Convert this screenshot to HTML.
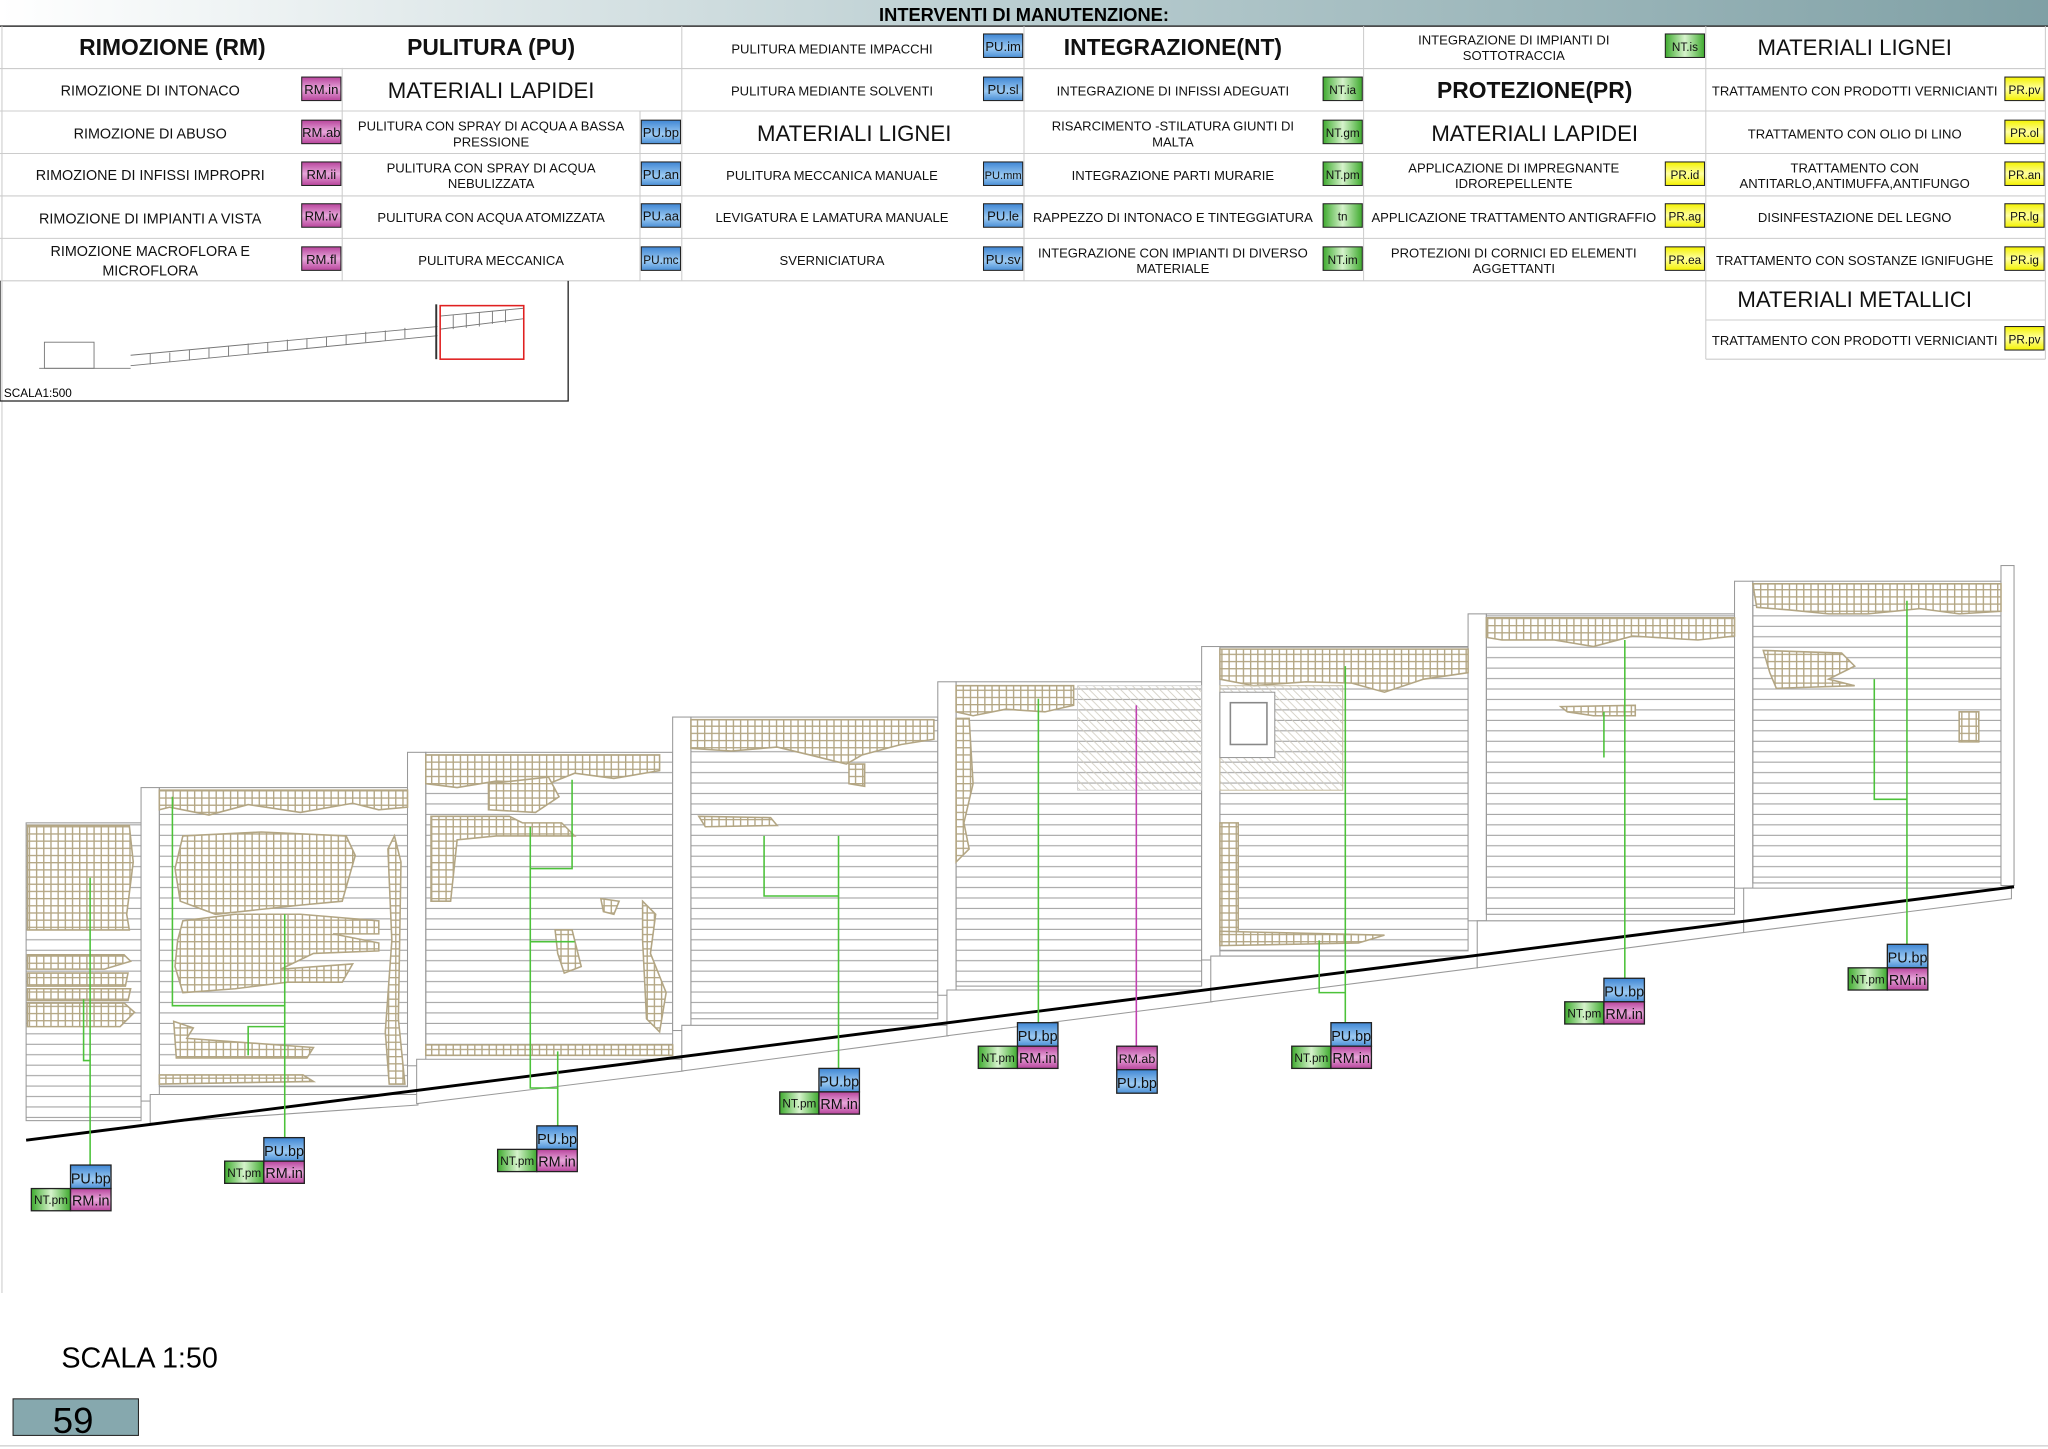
<!DOCTYPE html>
<html><head><meta charset="utf-8"><style>
html,body{margin:0;padding:0;background:#fff}
svg{display:block}
text{font-family:"Liberation Sans",Arial,sans-serif}
</style></head><body>
<svg width="2048" height="1449" viewBox="0 0 1568 1109.4" preserveAspectRatio="none" xmlns="http://www.w3.org/2000/svg">
<defs>
<linearGradient id="hd" x1="0" x2="1"><stop offset="0" stop-color="#ffffff"/><stop offset="0.5" stop-color="#b9cdd0"/><stop offset="1" stop-color="#7fa0a5"/></linearGradient>
<linearGradient id="rm" x1="0" y1="0" x2="0" y2="1"><stop offset="0" stop-color="#b8449c"/><stop offset="0.5" stop-color="#e7a6da"/><stop offset="1" stop-color="#b8449c"/></linearGradient>
<linearGradient id="pu" x1="0" y1="0" x2="0" y2="1"><stop offset="0" stop-color="#3f86d4"/><stop offset="0.6" stop-color="#9ccaf2"/><stop offset="1" stop-color="#4a8fd6"/></linearGradient>
<linearGradient id="nt" x1="0" y1="0" x2="1" y2="0"><stop offset="0" stop-color="#3eaa2e"/><stop offset="0.5" stop-color="#d6f3cc"/><stop offset="1" stop-color="#3eaa2e"/></linearGradient>
<linearGradient id="pr" x1="0" y1="0" x2="0" y2="1"><stop offset="0" stop-color="#f4f200"/><stop offset="0.5" stop-color="#ffffa0"/><stop offset="1" stop-color="#f4f200"/></linearGradient>
<pattern id="hl" width="20" height="8" patternUnits="userSpaceOnUse"><line x1="0" y1="7.5" x2="20" y2="7.5" stroke="#9a9a9a" stroke-width="0.8"/></pattern>
<pattern id="gr" width="5.5" height="5.5" patternUnits="userSpaceOnUse"><rect width="5.5" height="5.5" fill="#fff"/><path d="M0 0.5H5.5M0.5 0V5.5" stroke="#b3a684" stroke-width="1.1"/></pattern>
<pattern id="dg" width="6" height="6" patternUnits="userSpaceOnUse"><path d="M0 0L6 6M-1 5L1 7M5 -1L7 1" stroke="#d0ccc0" stroke-width="0.6"/></pattern>
</defs>

<rect x="0" y="0" width="1568" height="20" fill="url(#hd)"/>
<text x="784" y="16" font-size="14" font-weight="bold" text-anchor="middle">INTERVENTI DI MANUTENZIONE:</text>
<line x1="0" y1="20" x2="1568" y2="20" stroke="#333" stroke-width="1.2"/>

<g stroke="#ccc" stroke-width="0.8" fill="none">
<line x1="0" y1="52.5" x2="1566" y2="52.5"/><line x1="0" y1="85" x2="1566" y2="85"/><line x1="0" y1="117.5" x2="1566" y2="117.5"/><line x1="0" y1="150" x2="1566" y2="150"/><line x1="0" y1="182.5" x2="1566" y2="182.5"/><line x1="0" y1="215" x2="1566" y2="215"/>
<line x1="1306" y1="245" x2="1566" y2="245"/><line x1="1306" y1="275" x2="1566" y2="275"/>
<line x1="522" y1="20" x2="522" y2="215"/><line x1="784" y1="20" x2="784" y2="215"/><line x1="1044" y1="20" x2="1044" y2="215"/><line x1="1306" y1="20" x2="1306" y2="275"/><line x1="1566" y1="20" x2="1566" y2="275"/>
<line x1="262" y1="52" x2="262" y2="215"/><line x1="490" y1="85" x2="490" y2="215"/>
<line x1="1.5" y1="20" x2="1.5" y2="990"/>
</g>

<g font-size="10.5" text-anchor="middle" fill="#111">
<text x="132" y="42" font-size="17.5" font-weight="bold">RIMOZIONE (RM)</text>
<text x="115" y="73" font-size="11">RIMOZIONE DI INTONACO</text>
<text x="115" y="106" font-size="11">RIMOZIONE DI ABUSO</text>
<text x="115" y="138" font-size="11">RIMOZIONE DI INFISSI IMPROPRI</text>
<text x="115" y="171" font-size="11">RIMOZIONE DI IMPIANTI A VISTA</text>
<text x="115" y="196" font-size="11">RIMOZIONE MACROFLORA E</text>
<text x="115" y="211" font-size="11">MICROFLORA</text>
<text x="376" y="42" font-size="17.5" font-weight="bold">PULITURA (PU)</text>
<text x="376" y="75" font-size="17">MATERIALI LAPIDEI</text>
<text x="376" y="100" font-size="10">PULITURA CON SPRAY DI ACQUA A BASSA</text>
<text x="376" y="112" font-size="10">PRESSIONE</text>
<text x="376" y="132" font-size="10">PULITURA CON SPRAY DI ACQUA</text>
<text x="376" y="144" font-size="10">NEBULIZZATA</text>
<text x="376" y="170" font-size="10">PULITURA CON  ACQUA ATOMIZZATA</text>
<text x="376" y="203" font-size="10">PULITURA MECCANICA</text>
<text x="637" y="41" font-size="10">PULITURA  MEDIANTE IMPACCHI</text>
<text x="637" y="73" font-size="10">PULITURA MEDIANTE SOLVENTI</text>
<text x="654" y="108" font-size="17">MATERIALI LIGNEI</text>
<text x="637" y="138" font-size="10">PULITURA MECCANICA MANUALE</text>
<text x="637" y="170" font-size="10">LEVIGATURA E LAMATURA MANUALE</text>
<text x="637" y="203" font-size="10">SVERNICIATURA</text>
<text x="898" y="42" font-size="17.5" font-weight="bold">INTEGRAZIONE(NT)</text>
<text x="898" y="73" font-size="10">INTEGRAZIONE DI INFISSI ADEGUATI</text>
<text x="898" y="100" font-size="10">RISARCIMENTO -STILATURA GIUNTI DI</text>
<text x="898" y="112" font-size="10">MALTA</text>
<text x="898" y="138" font-size="10">INTEGRAZIONE PARTI MURARIE</text>
<text x="898" y="170" font-size="10">RAPPEZZO DI INTONACO E TINTEGGIATURA</text>
<text x="898" y="197" font-size="10">INTEGRAZIONE CON IMPIANTI DI DIVERSO</text>
<text x="898" y="209" font-size="10">MATERIALE</text>
<text x="1159" y="34" font-size="10">INTEGRAZIONE DI IMPIANTI DI</text>
<text x="1159" y="46" font-size="10">SOTTOTRACCIA</text>
<text x="1175" y="75" font-size="17.5" font-weight="bold">PROTEZIONE(PR)</text>
<text x="1175" y="108" font-size="17">MATERIALI LAPIDEI</text>
<text x="1159" y="132" font-size="10">APPLICAZIONE DI IMPREGNANTE</text>
<text x="1159" y="144" font-size="10">IDROREPELLENTE</text>
<text x="1159" y="170" font-size="10">APPLICAZIONE TRATTAMENTO ANTIGRAFFIO</text>
<text x="1159" y="197" font-size="10">PROTEZIONI DI CORNICI ED ELEMENTI</text>
<text x="1159" y="209" font-size="10">AGGETTANTI</text>
<text x="1420" y="42" font-size="17">MATERIALI LIGNEI</text>
<text x="1420" y="73" font-size="10">TRATTAMENTO CON PRODOTTI VERNICIANTI</text>
<text x="1420" y="106" font-size="10">TRATTAMENTO CON OLIO DI LINO</text>
<text x="1420" y="132" font-size="10">TRATTAMENTO CON</text>
<text x="1420" y="144" font-size="10">ANTITARLO,ANTIMUFFA,ANTIFUNGO</text>
<text x="1420" y="170" font-size="10">DISINFESTAZIONE DEL LEGNO</text>
<text x="1420" y="203" font-size="10">TRATTAMENTO CON SOSTANZE IGNIFUGHE</text>
<text x="1420" y="235" font-size="17">MATERIALI METALLICI</text>
<text x="1420" y="264" font-size="10">TRATTAMENTO CON PRODOTTI VERNICIANTI</text>
</g>

<g stroke="#222" stroke-width="0.8" font-size="10">
<rect x="231" y="59" width="30" height="18" fill="url(#rm)"/><rect x="231" y="92" width="30" height="18" fill="url(#rm)"/><rect x="231" y="124" width="30" height="18" fill="url(#rm)"/><rect x="231" y="156" width="30" height="18" fill="url(#rm)"/><rect x="231" y="189" width="30" height="18" fill="url(#rm)"/>
<rect x="491" y="92" width="30" height="18" fill="url(#pu)"/><rect x="491" y="124" width="30" height="18" fill="url(#pu)"/><rect x="491" y="156" width="30" height="18" fill="url(#pu)"/><rect x="491" y="189" width="30" height="18" fill="url(#pu)"/>
<rect x="753" y="26" width="30" height="18" fill="url(#pu)"/><rect x="753" y="59" width="30" height="18" fill="url(#pu)"/><rect x="753" y="124" width="30" height="18" fill="url(#pu)"/><rect x="753" y="156" width="30" height="18" fill="url(#pu)"/><rect x="753" y="189" width="30" height="18" fill="url(#pu)"/>
<rect x="1013" y="59" width="30" height="18" fill="url(#nt)"/><rect x="1013" y="92" width="30" height="18" fill="url(#nt)"/><rect x="1013" y="124" width="30" height="18" fill="url(#nt)"/><rect x="1013" y="156" width="30" height="18" fill="url(#nt)"/><rect x="1013" y="189" width="30" height="18" fill="url(#nt)"/>
<rect x="1275" y="26" width="30" height="18" fill="url(#nt)"/>
<rect x="1275" y="124" width="30" height="18" fill="url(#pr)"/><rect x="1275" y="156" width="30" height="18" fill="url(#pr)"/><rect x="1275" y="189" width="30" height="18" fill="url(#pr)"/>
<rect x="1535" y="59" width="30" height="18" fill="url(#pr)"/><rect x="1535" y="92" width="30" height="18" fill="url(#pr)"/><rect x="1535" y="124" width="30" height="18" fill="url(#pr)"/><rect x="1535" y="156" width="30" height="18" fill="url(#pr)"/><rect x="1535" y="189" width="30" height="18" fill="url(#pr)"/><rect x="1535" y="250" width="30" height="18" fill="url(#pr)"/>
</g>
<g font-size="10" text-anchor="middle" fill="#111">
<text x="246" y="72">RM.in</text><text x="246" y="105">RM.ab</text><text x="246" y="137">RM.ii</text><text x="246" y="169">RM.iv</text><text x="246" y="202">RM.fl</text>
<text x="506" y="105">PU.bp</text><text x="506" y="137">PU.an</text><text x="506" y="169">PU.aa</text><text x="506" y="202" font-size="9">PU.mc</text>
<text x="768" y="39">PU.im</text><text x="768" y="72">PU.sl</text><text x="768" y="137" font-size="8.5">PU.mm</text><text x="768" y="169">PU.le</text><text x="768" y="202">PU.sv</text>
<text x="1028" y="72" font-size="9">NT.ia</text><text x="1028" y="105" font-size="9">NT.gm</text><text x="1028" y="137" font-size="9">NT.pm</text><text x="1028" y="169" font-size="9">tn</text><text x="1028" y="202" font-size="9">NT.im</text>
<text x="1290" y="39" font-size="9">NT.is</text>
<text x="1290" y="137" font-size="9">PR.id</text><text x="1290" y="169" font-size="9">PR.ag</text><text x="1290" y="202" font-size="9">PR.ea</text>
<text x="1550" y="72" font-size="9">PR.pv</text><text x="1550" y="105" font-size="9">PR.ol</text><text x="1550" y="137" font-size="9">PR.an</text><text x="1550" y="169" font-size="9">PR.lg</text><text x="1550" y="202" font-size="9">PR.ig</text><text x="1550" y="263" font-size="9">PR.pv</text>
</g>

<path d="M0 215V307H435V215" fill="none" stroke="#222" stroke-width="1"/>
<g stroke="#777" stroke-width="0.7" fill="none">
<rect x="34" y="262" width="38" height="20"/><line x1="30" y1="282" x2="100" y2="282"/>
<path d="M100 280L335 257M100 272L335 250"/>
<path d="M115 279V271M130 277V270M145 276V268M160 274V266M175 273V265M190 271V263M205 270V262M220 268V260M235 267V259M250 265V258M265 264V256M280 262V254M295 261V253M310 259V251"/>
<line x1="334" y1="233" x2="334" y2="275" stroke="#333" stroke-width="1.5"/>
<path d="M337 252L401 244M337 242L401 236M347 252V241M357 251V240M367 250V239M377 248V238M387 247V237"/>
</g>
<rect x="337" y="234" width="64" height="41" fill="none" stroke="#e02020" stroke-width="1.2"/>
<text x="3" y="304" font-size="9">SCALA1:500</text>

<g stroke="#999" stroke-width="0.8">
<rect x="20" y="630" width="88" height="228" fill="url(#hl)"/>
<rect x="108" y="603" width="14" height="240" fill="#fff"/><rect x="122" y="603" width="190" height="229" fill="url(#hl)"/>
<rect x="312" y="576" width="14" height="240" fill="#fff"/><rect x="326" y="576" width="189" height="229" fill="url(#hl)"/>
<rect x="515" y="549" width="14" height="240" fill="#fff"/><rect x="529" y="549" width="189" height="231" fill="url(#hl)"/>
<rect x="718" y="522" width="14" height="240" fill="#fff"/><rect x="732" y="522" width="188" height="233" fill="url(#hl)"/>
<rect x="920" y="495" width="14" height="240" fill="#fff"/><rect x="934" y="495" width="190" height="233" fill="url(#hl)"/>
<rect x="1124" y="470" width="14" height="235" fill="#fff"/><rect x="1138" y="470" width="190" height="230" fill="url(#hl)"/>
<rect x="1328" y="445" width="14" height="235" fill="#fff"/><rect x="1342" y="445" width="190" height="231" fill="url(#hl)"/>
<rect x="1532" y="433" width="10" height="245" fill="#fff"/>
<path d="M115 838H320V846L115 860Z" fill="#fff"/>
<path d="M319 811H523V820L319 845Z" fill="#fff"/>
<path d="M522 785H726V793L522 820Z" fill="#fff"/>
<path d="M725 758H928V767L725 793Z" fill="#fff"/>
<path d="M927 732H1131V741L927 767Z" fill="#fff"/>
<path d="M1131 705H1335V714L1131 741Z" fill="#fff"/>
<path d="M1335 680H1540V688L1335 714Z" fill="#fff"/>
</g>
<g fill="url(#gr)" stroke="#b3a684" stroke-width="1.2">
<path d="M21 632H99L102 660L97 700L99 712H21Z"/>
<path d="M21 731H95L100 736L80 742H21Z"/><path d="M21 745H98L96 755H21Z"/><path d="M21 757H100L98 766H21Z"/><path d="M21 768H95L103 775L92 786H21Z"/>
<path d="M122 605H312V618L290 620L270 615L230 622L190 616L160 624L130 618L122 620Z"/>
<path d="M140 640L200 637L265 640L272 655L262 690L230 693L165 700L138 690L134 665Z"/>
<path d="M140 705L180 700L230 700L290 705L290 715L255 715L290 722L290 728L240 730L215 742L270 738L262 752L220 752L180 757L140 760L134 740L136 720Z"/>
<path d="M133 782L148 787L143 795L240 802L235 810L135 810Z"/>
<path d="M297 650L302 640L307 660L305 780L310 830L298 830L295 790L300 720Z"/>
<path d="M122 823H232L240 828L122 830Z"/>
<path d="M326 578H505V590L470 596L440 592L420 600L380 598L350 603L326 600Z"/>
<path d="M374 600L420 595L428 610L410 622L374 620Z"/>
<path d="M330 625L390 625L400 630L430 630L440 640L380 640L350 643L345 690L330 690Z"/>
<path d="M326 800H515V808H326Z"/>
<path d="M460 688L474 690L470 700L462 698Z"/><path d="M425 712L438 712L445 740L432 745L427 730Z"/>
<path d="M492 690L502 700L498 730L510 760L505 790L495 780L492 720Z"/>
<path d="M529 551H715V566L690 570L660 578L648 585L620 578L595 572L560 575L529 573Z"/>
<path d="M650 585H662V602L650 600Z"/>
<path d="M535 625L590 626L595 632L540 633Z"/>
<path d="M732 525H822V540L800 545L770 543L745 548L732 545Z"/>
<path d="M732 550L742 550L745 600L738 630L742 650L732 660Z"/>
<path d="M934 497H1124V515L1090 520L1060 530L1035 523L1000 522L960 525L934 520Z"/>
<path d="M934 630H948V720H934Z"/><path d="M934 713L1060 716L1040 722L934 724Z"/>
<path d="M1138 473H1328V487L1300 490L1250 487L1220 495L1190 490L1150 490L1138 488Z"/>
<path d="M1195 541L1252 540L1252 548L1220 548L1200 545Z"/>
<path d="M1342 447H1532V468L1500 470L1470 466L1430 470L1400 470L1370 467L1345 465Z"/>
<path d="M1350 498L1410 500L1420 510L1400 520L1420 525L1360 527L1355 515Z"/>
<path d="M1500 545L1515 545L1515 568L1500 568Z"/>
</g>
<rect x="825" y="525" width="95" height="80" fill="url(#dg)" stroke="#ccc" stroke-width="0.6"/>
<rect x="934" y="525" width="94" height="80" fill="url(#dg)" stroke="#c8bfa5" stroke-width="0.8"/>
<rect x="934" y="530" width="42" height="50" fill="#fff" stroke="#999" stroke-width="0.8"/>
<rect x="942" y="538" width="28" height="32" fill="#fff" stroke="#888" stroke-width="1.2"/>

<line x1="20" y1="873" x2="1542" y2="679" stroke="#000" stroke-width="2.2"/>

<g stroke="#4cc23a" stroke-width="1.2" fill="none">
<path d="M69 672V892M64 765V812H69"/>
<path d="M132 610V770H218M218 700V871M190 808V786H218"/>
<path d="M406 633V833H427M427 805V862M406 665H438V597M406 721H440"/>
<path d="M585 640V686H642M642 640V818"/>
<path d="M795 535V783"/>
<path d="M1030 510V783M1010 720V760H1030"/>
<path d="M1244 490V749M1228 545V580"/>
<path d="M1460 460V723M1435 520V612H1460"/>
</g>
<line x1="870" y1="540" x2="870" y2="801" stroke="#c040b0" stroke-width="1.2"/>

<g stroke="#222" stroke-width="1">
<rect x="54" y="892" width="31" height="18" fill="url(#pu)"/><rect x="24" y="910" width="30" height="17" fill="url(#nt)"/><rect x="54" y="910" width="31" height="17" fill="url(#rm)"/>
<rect x="202" y="871" width="31" height="18" fill="url(#pu)"/><rect x="172" y="889" width="30" height="17" fill="url(#nt)"/><rect x="202" y="889" width="31" height="17" fill="url(#rm)"/>
<rect x="411" y="862" width="31" height="18" fill="url(#pu)"/><rect x="381" y="880" width="30" height="17" fill="url(#nt)"/><rect x="411" y="880" width="31" height="17" fill="url(#rm)"/>
<rect x="627" y="818" width="31" height="18" fill="url(#pu)"/><rect x="597" y="836" width="30" height="17" fill="url(#nt)"/><rect x="627" y="836" width="31" height="17" fill="url(#rm)"/>
<rect x="779" y="783" width="31" height="18" fill="url(#pu)"/><rect x="749" y="801" width="30" height="17" fill="url(#nt)"/><rect x="779" y="801" width="31" height="17" fill="url(#rm)"/>
<rect x="1019" y="783" width="31" height="18" fill="url(#pu)"/><rect x="989" y="801" width="30" height="17" fill="url(#nt)"/><rect x="1019" y="801" width="31" height="17" fill="url(#rm)"/>
<rect x="1228" y="749" width="31" height="18" fill="url(#pu)"/><rect x="1198" y="767" width="30" height="17" fill="url(#nt)"/><rect x="1228" y="767" width="31" height="17" fill="url(#rm)"/>
<rect x="1445" y="723" width="31" height="18" fill="url(#pu)"/><rect x="1415" y="741" width="30" height="17" fill="url(#nt)"/><rect x="1445" y="741" width="31" height="17" fill="url(#rm)"/>
<rect x="855" y="801" width="31" height="18" fill="url(#rm)"/><rect x="855" y="819" width="31" height="18" fill="url(#pu)"/>
</g>
<g font-size="11" text-anchor="middle" fill="#111">
<text x="69.5" y="906">PU.bp</text><text x="39" y="922" font-size="9">NT.pm</text><text x="69.5" y="923">RM.in</text>
<text x="217.5" y="885">PU.bp</text><text x="187" y="901" font-size="9">NT.pm</text><text x="217.5" y="902">RM.in</text>
<text x="426.5" y="876">PU.bp</text><text x="396" y="892" font-size="9">NT.pm</text><text x="426.5" y="893">RM.in</text>
<text x="642.5" y="832">PU.bp</text><text x="612" y="848" font-size="9">NT.pm</text><text x="642.5" y="849">RM.in</text>
<text x="794.5" y="797">PU.bp</text><text x="764" y="813" font-size="9">NT.pm</text><text x="794.5" y="814">RM.in</text>
<text x="1034.5" y="797">PU.bp</text><text x="1004" y="813" font-size="9">NT.pm</text><text x="1034.5" y="814">RM.in</text>
<text x="1243.5" y="763">PU.bp</text><text x="1213" y="779" font-size="9">NT.pm</text><text x="1243.5" y="780">RM.in</text>
<text x="1460.5" y="737">PU.bp</text><text x="1430" y="753" font-size="9">NT.pm</text><text x="1460.5" y="754">RM.in</text>
<text x="870.5" y="814" font-size="9.5">RM.ab</text><text x="870.5" y="833">PU.bp</text>
</g>

<text x="47" y="1047" font-size="22">SCALA 1:50</text>
<rect x="10" y="1071" width="96" height="28" fill="#86a8ae" stroke="#222" stroke-width="0.8"/>
<text x="56" y="1097" font-size="28" text-anchor="middle">59</text>
<line x1="0" y1="1107" x2="1568" y2="1107" stroke="#ccc" stroke-width="1"/>
</svg>
</body></html>
